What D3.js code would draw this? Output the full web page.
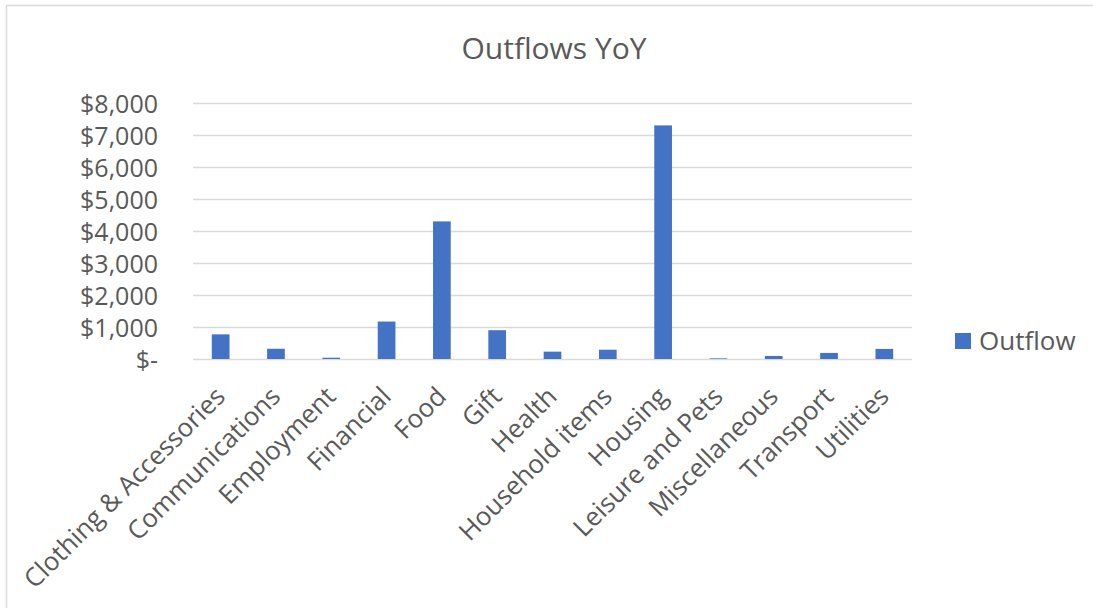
<!DOCTYPE html>
<html><head><meta charset="utf-8">
<script src="https://cdn.jsdelivr.net/npm/d3@7"></script>
<style>body{margin:0;background:#fff}svg{display:block}text{font-family:"Open Sans",sans-serif;fill:#595959}</style>
</head><body><svg id="c" width="1093" height="608"></svg>
<script>
const categories = ["Clothing & Accessories","Communications","Employment","Financial","Food","Gift","Health","Household items","Housing","Leisure and Pets","Miscellaneous","Transport","Utilities"];
const outflow = [770,320,40,1170,4300,900,230,290,7300,20,95,190,315];
const yTicks = [0,1000,2000,3000,4000,5000,6000,7000,8000];
const seriesName = "Outflow";
const title = "Outflows YoY";

const svg = d3.select("#c");
svg.append("rect").attr("x",6.5).attr("y",5.5).attr("width",1100).attr("height",620)
  .attr("fill","#fff").attr("stroke","#d9d9d9").attr("stroke-width",1.5);

const m = {l:193, r:912, t:103, b:359};
const x = d3.scaleBand().domain(categories).range([m.l,m.r]).paddingInner(0.68).paddingOuter(0.34);
const y = d3.scaleLinear().domain([0,8000]).range([m.b,m.t]);

const fmt = v => v===0 ? "$-" : "$" + d3.format(",")(v);
const ya = svg.append("g").attr("transform",`translate(${m.l},0)`)
  .call(d3.axisLeft(y).tickValues(yTicks).tickSize(-(m.r-m.l)).tickPadding(35).tickFormat(fmt));
ya.select(".domain").remove();
ya.selectAll("line").attr("stroke","#d9d9d9").attr("stroke-width",1.5);
ya.selectAll("text").attr("font-size",25).attr("fill","#595959").attr("dy","0.36em")
  .attr("font-family","'Open Sans',sans-serif");

svg.append("g").selectAll("rect").data(outflow).join("rect")
  .attr("x",(d,i)=>x(categories[i])).attr("width",x.bandwidth())
  .attr("y",d=>y(d)).attr("height",d=>y(0)-y(d)).attr("fill","#4472c4");

const xa = svg.append("g").attr("transform",`translate(0,${m.b})`)
  .call(d3.axisBottom(x).tickSize(0).tickPadding(0));
xa.select(".domain").remove();
xa.selectAll("text").attr("font-size",25.8).attr("fill","#595959")
  .attr("font-family","'Open Sans',sans-serif")
  .attr("text-anchor","end").attr("dy",null).attr("y",0)
  .attr("transform","translate(6,39) rotate(-45)");

svg.append("text").attr("x",554).attr("y",59).attr("text-anchor","middle")
  .attr("font-size",30).text(title);

svg.append("rect").attr("x",955).attr("y",333).attr("width",16).attr("height",16).attr("fill","#4472c4");
svg.append("text").attr("x",979).attr("y",350).attr("font-size",26).text(seriesName);
</script></body></html>
